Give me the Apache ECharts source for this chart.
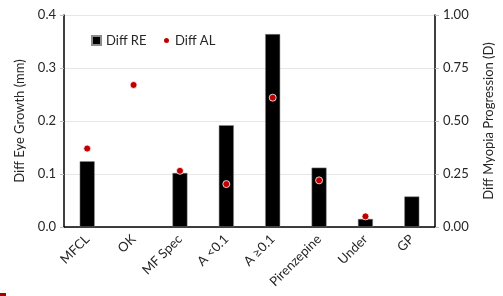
<!DOCTYPE html>
<html>
<head>
<meta charset="utf-8">
<script src="https://cdn.jsdelivr.net/npm/echarts@6/dist/echarts.min.js"></script>
<style>
html,body{margin:0;padding:0;background:#fff;}
#chart{width:503px;height:296px;}
</style>
</head>
<body>
<div id="chart"></div>
<script>
var categories = ['MFCL', 'OK', 'MF Spec', 'A <0.1', 'A \u22650.1', 'Pirenzepine', 'Under', 'GP'];
var diffRE = [0.31, '-', 0.255, 0.48, 0.91, 0.28, 0.038, 0.144];   // D, right axis
var diffAL = [0.148, 0.268, 0.106, 0.081, 0.244, 0.088, 0.02, '-']; // mm, left axis
var leftTicks = [0, 0.1, 0.2, 0.3, 0.4];
var rightTicks = [0, 0.25, 0.5, 0.75, 1];

var font = 'Lato, "Open Sans", sans-serif';
var txt = '#262626';

var myChart = echarts.init(document.getElementById('chart'), null, {renderer: 'canvas'});
var option = {
    animation: false,
    textStyle: {fontFamily: font},
    grid: {left: 64, right: 66, top: 15, bottom: 69},
    legend: [{
        left: 86, top: 29,
        itemWidth: 9, itemHeight: 9, itemGap: 5,
        textStyle: {fontSize: 13, color: txt, fontFamily: font},
        data: [{name: 'Diff RE', icon: 'rect'}]
    }, {
        left: 157, top: 29,
        itemWidth: 7, itemHeight: 7,
        textStyle: {fontSize: 13, color: txt, fontFamily: font},
        data: [{name: 'Diff AL', icon: 'circle'}]
    }],
    xAxis: {
        type: 'category',
        data: categories,
        axisLine: {lineStyle: {color: '#000', width: 1.5}},
        axisTick: {show: false},
        axisLabel: {rotate: 45, fontSize: 13, color: txt, margin: 10, interval: 0}
    },
    yAxis: [{
        type: 'value',
        min: leftTicks[0], max: leftTicks[leftTicks.length - 1], interval: 0.1,
        name: 'Diff Eye Growth (mm)',
        nameLocation: 'middle', nameGap: 38, nameRotate: 90,
        nameTextStyle: {fontSize: 13, color: txt},
        axisLine: {show: true, lineStyle: {color: '#000', width: 1.5}},
        axisTick: {show: true, length: 4, lineStyle: {color: '#bfbfbf'}},
        axisLabel: {fontSize: 13, color: txt, formatter: function (v) { return v.toFixed(1); }},
        splitLine: {lineStyle: {color: '#e6e6e6'}}
    }, {
        type: 'value',
        min: rightTicks[0], max: rightTicks[rightTicks.length - 1], interval: 0.25,
        name: 'Diff Myopia Progression (D)',
        nameLocation: 'middle', nameGap: 47, nameRotate: 90,
        nameTextStyle: {fontSize: 13, color: txt},
        position: 'right',
        axisLine: {show: true, lineStyle: {color: '#000', width: 1.5}},
        axisTick: {show: true, length: 4, lineStyle: {color: '#bfbfbf'}},
        axisLabel: {fontSize: 13, color: txt, formatter: function (v) { return v.toFixed(2); }},
        splitLine: {show: false}
    }],
    series: [{
        name: 'Diff RE',
        type: 'bar',
        yAxisIndex: 1,
        barWidth: 15,
        itemStyle: {color: '#000', borderColor: '#8c8c8c', borderWidth: 0.5},
        data: diffRE
    }, {
        name: 'Diff AL',
        type: 'scatter',
        yAxisIndex: 0,
        symbolSize: 7,
        itemStyle: {color: '#c00000', borderColor: '#fff', borderWidth: 0.8, opacity: 1},
        data: diffAL
    }],
    graphic: [{
        type: 'rect',
        left: 0, top: 293,
        shape: {width: 6, height: 3},
        style: {fill: '#a50000'}
    }]
};
myChart.setOption(option);
</script>
</body>
</html>
